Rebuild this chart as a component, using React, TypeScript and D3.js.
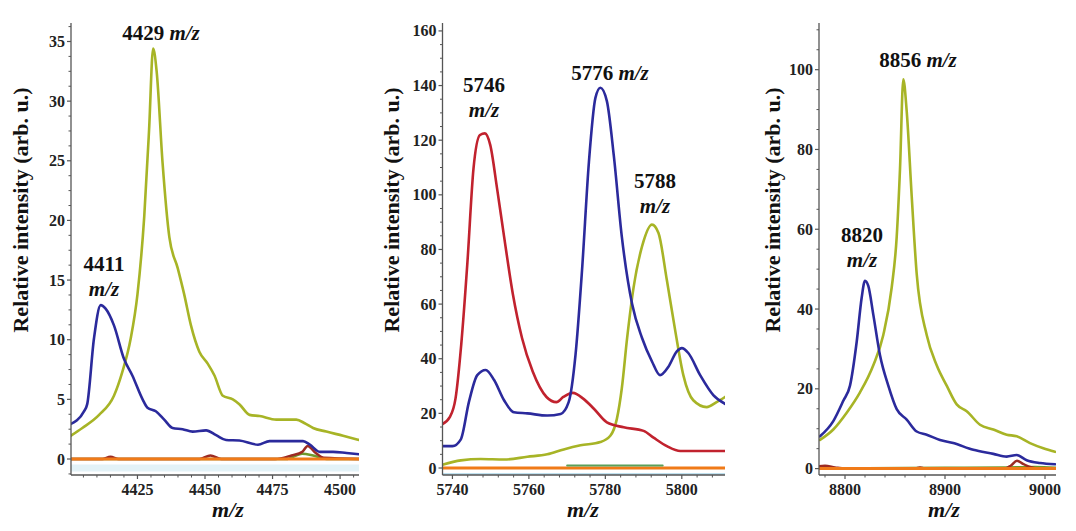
import React from "react";
import * as d3 from "d3";

type Pt = [number, number];

// ---------- Panel 1 (4400-4507 m/z) ----------
const p1XTicks = [4425, 4450, 4475, 4500];
const p1YTicks = [0, 5, 10, 15, 20, 25, 30, 35];
const p1Blue: Pt[] = [
  [4400, 2.9], [4405.2, 4.0], [4406.4, 4.6], [4408.9, 10.1], [4411.4, 12.9], [4413.2, 12.6],
  [4416.3, 11.2], [4420, 8.4], [4423.1, 7.0], [4426.9, 5.0], [4428.7, 4.3], [4431.8, 4.0],
  [4434.9, 3.3], [4438, 2.6], [4441.7, 2.5], [4445.4, 2.3], [4450.4, 2.4], [4454.1, 2.0],
  [4457.8, 1.6], [4462.7, 1.55], [4469.6, 1.2], [4473.9, 1.5], [4480.1, 1.5], [4486.3, 1.5],
  [4488.8, 1.2], [4492.5, 0.6], [4497.4, 0.6], [4502.4, 0.5], [4507, 0.4],
];
const p1Olive: Pt[] = [
  [4400, 1.9], [4404.6, 2.6], [4410.8, 3.7], [4416.3, 5.3], [4419.4, 7.3], [4422.5, 10.1],
  [4425, 13.8], [4427.5, 20.3], [4429.3, 27.6], [4430.8, 34.4], [4432.1, 32.5], [4434.3, 24.8],
  [4436.8, 18.6], [4439.9, 16.0], [4442.3, 13.8], [4444.8, 11.2], [4447.9, 9.0], [4451, 8.0],
  [4453.5, 7.0], [4456.6, 5.3], [4460.3, 5.0], [4462.7, 4.6], [4466.5, 3.7], [4470.2, 3.6],
  [4476.4, 3.3], [4483.8, 3.3], [4486.9, 3.0], [4490, 2.6], [4494.9, 2.3], [4501.1, 1.95], [4507, 1.6],
];
const p1DarkRed: Pt[] = [
  [4400, 0], [4412, 0], [4415, 0.2], [4418, 0], [4448, 0], [4452, 0.3], [4456, 0],
  [4476, 0], [4482, 0.3], [4486, 0.6], [4488, 1.1], [4491, 0.5], [4494, 0.1], [4507, 0],
];
const p1Green: Pt[] = [[4400, 0], [4480, 0], [4486, 0.45], [4490, 0.3], [4495, 0], [4507, 0]];
const p1Orange: Pt[] = [[4400, 0], [4507, 0]];
const p1Cyan: Pt[] = [[4400, -0.75], [4507, -0.75]];

// ---------- Panel 2 (5736-5811 m/z) ----------
const p2XTicks = [5740, 5760, 5780, 5800];
const p2YTicks = [0, 20, 40, 60, 80, 100, 120, 140, 160];
const p2Red: Pt[] = [
  [5737.4, 16.1], [5739.3, 18.6], [5740.8, 25.4], [5742.3, 45.2], [5743.9, 74.9], [5745.5, 109.5],
  [5747.2, 121.9], [5748.5, 122.5], [5749.9, 118.2], [5751.7, 102.1], [5753.5, 84.8], [5755.8, 63.7],
  [5758.2, 47.6], [5761, 35.3], [5764.6, 26.0], [5767.2, 24.1], [5769, 26.0], [5771.5, 27.5],
  [5774.2, 25.4], [5777, 21.7], [5780.4, 16.7], [5784.8, 14.9], [5790, 13.6], [5792.6, 11.1],
  [5796.1, 8.0], [5799.6, 6.2], [5803, 6.2], [5811.3, 6.2],
];
const p2Blue: Pt[] = [
  [5737.4, 8.0], [5740, 8.0], [5742.2, 10.5], [5744.3, 24.1], [5746.5, 34.0], [5748.7, 35.9],
  [5750.9, 32.2], [5753.5, 24.8], [5756.1, 20.4], [5759.6, 20.0], [5764.8, 19.2], [5768.3, 19.8],
  [5770.4, 24.1], [5772.2, 41.5], [5773.9, 72.4], [5775.7, 112], [5777.4, 135.5], [5778.7, 139.2],
  [5780.4, 134.3], [5782.2, 114.5], [5784.3, 84.8], [5787, 60.0], [5789.6, 47.6], [5792.2, 39.0],
  [5794.3, 34.0], [5796.5, 37.1], [5798.7, 42.7], [5800, 43.9], [5801.7, 42.1], [5804.8, 34.0],
  [5808.3, 26.6], [5811.3, 23.5],
];
const p2Olive: Pt[] = [
  [5737.4, 1.2], [5742.2, 2.8], [5747.4, 3.3], [5753.5, 3.1], [5759.6, 4.1], [5764.8, 5.0],
  [5769.1, 6.8], [5773.5, 8.3], [5778.7, 9.5], [5781.3, 11.8], [5783, 17.9], [5784.3, 29.1],
  [5785.7, 47.6], [5787.4, 66.2], [5789.6, 81.1], [5792.2, 89.1], [5793.9, 86.0], [5796.1, 68.7],
  [5798.3, 50.1], [5800.4, 34.0], [5803, 24.8], [5806.5, 22.3], [5809.1, 24.1], [5811.3, 26.0],
];
const p2Orange: Pt[] = [[5736, 0], [5811.3, 0]];
const p2Green: Pt[] = [[5770, 0.9], [5795, 0.9]];
const p2Cyan: Pt[] = [[5736, -2.2], [5811.3, -2.2]];

// ---------- Panel 3 (8774-9011 m/z) ----------
const p3XTicks = [8800, 8900, 9000];
const p3YTicks = [0, 20, 40, 60, 80, 100];
const p3Blue: Pt[] = [
  [8775, 8.1], [8788.3, 11.9], [8798.3, 17.0], [8805, 20.8], [8811.7, 31.8], [8816.7, 42.9],
  [8820, 47.1], [8823.3, 45.8], [8828.3, 38.6], [8835, 28.4], [8843.3, 20.8], [8851.7, 14.9],
  [8861.7, 12.3], [8871.7, 9.3], [8881.7, 8.5], [8895, 7.2], [8908.3, 6.4], [8928.3, 4.7],
  [8948.3, 3.7], [8961.7, 3.0], [8971.7, 3.4], [8981.7, 2.1], [8995, 1.4], [9010, 1.1],
];
const p3Olive: Pt[] = [
  [8775, 7.2], [8788.3, 9.8], [8801.7, 14.0], [8815, 19.1], [8828.3, 25.9], [8838.3, 33.5],
  [8846.7, 45.4], [8851.7, 58.1], [8855, 75.1], [8858.3, 97.6], [8861.7, 89.6], [8866.7, 68.3],
  [8871.7, 48.8], [8881.7, 33.5], [8891.7, 25.9], [8901.7, 20.8], [8911.7, 16.1], [8921.7, 14.4],
  [8935, 11.0], [8948.3, 9.8], [8961.7, 8.5], [8971.7, 8.1], [8985, 6.4], [8998.3, 5.1], [9010, 4.2],
];
const p3DarkRed: Pt[] = [
  [8774, 0.6], [8780, 0.7], [8790, 0.3], [8800, 0], [8870, 0], [8875, 0.3], [8880, 0],
  [8960, 0], [8966, 0.8], [8972, 2.0], [8978, 1.2], [8985, 0.4], [8995, 0], [9011, 0],
];
const p3Green: Pt[] = [[8774, 0], [8900, 0.2], [8960, 0.3], [8990, 0.4], [9011, 0.2]];
const p3Orange: Pt[] = [[8774, 0], [9011, 0]];

const BLUE = "#2b2a9c";
const OLIVE = "#a7b426";
const RED = "#c1222e";
const DARKRED = "#9c2a22";
const ORANGE = "#f07a18";
const GREEN = "#6f9a2c";
const CYAN = "#e3f2f7";

const FONT = "'Liberation Serif', 'Times New Roman', serif";

type SeriesDef = { data: Pt[]; color: string; width: number };
type Annot = { x: number; y: number; num: string; twoLine: boolean };

type PanelProps = {
  id: string;
  left: number;
  right: number;
  top: number;
  bottom: number;
  xDomain: [number, number];
  yDomain: [number, number];
  xTicks: number[];
  xMinorStep: number;
  yTicks: number[];
  yMinorStep: number;
  series: SeriesDef[];
  yLabelX: number;
  xTitleX: number;
  annots: Annot[];
};

function Panel(p: PanelProps) {
  const x = d3.scaleLinear().domain(p.xDomain).range([p.left, p.right]);
  const y = d3.scaleLinear().domain(p.yDomain).range([p.bottom, p.top]);
  const line = d3
    .line<Pt>()
    .x((d) => x(d[0]))
    .y((d) => y(d[1]))
    .curve(d3.curveMonotoneX);

  const xMinor = d3
    .range(Math.ceil(p.xDomain[0] / p.xMinorStep) * p.xMinorStep, p.xDomain[1], p.xMinorStep)
    .filter((v) => !p.xTicks.includes(v));
  const yMinor = d3
    .range(Math.ceil(p.yDomain[0] / p.yMinorStep) * p.yMinorStep, p.yDomain[1], p.yMinorStep)
    .filter((v) => !p.yTicks.some((t) => Math.abs(t - v) < 1e-6));

  const axisColor = "#555";
  return (
    <g>
      <defs>
        <clipPath id={`clip-${p.id}`}>
          <rect x={p.left} y={p.top} width={p.right - p.left} height={p.bottom - p.top} />
        </clipPath>
      </defs>
      <g clipPath={`url(#clip-${p.id})`}>
        {p.series.map((s, i) => (
          <path
            key={i}
            d={line(s.data) || ""}
            fill="none"
            stroke={s.color}
            strokeWidth={s.width}
            strokeLinejoin="round"
            strokeLinecap="round"
          />
        ))}
      </g>
      <line x1={p.left} x2={p.left} y1={p.top} y2={p.bottom} stroke={axisColor} strokeWidth={1.3} />
      <line x1={p.left} x2={p.right} y1={p.bottom} y2={p.bottom} stroke={axisColor} strokeWidth={1.3} />
      {p.yTicks.map((t) => (
        <g key={`yt${t}`}>
          <line x1={p.left - 4} x2={p.left} y1={y(t)} y2={y(t)} stroke={axisColor} strokeWidth={1.2} />
          <text
            x={p.left - 6}
            y={y(t)}
            textAnchor="end"
            dominantBaseline="central"
            fontFamily={FONT}
            fontWeight="bold"
            fontSize={16}
            fill="#222"
          >
            {t}
          </text>
        </g>
      ))}
      {yMinor.map((t) => (
        <line key={`ym${t}`} x1={p.left - 2.5} x2={p.left} y1={y(t)} y2={y(t)} stroke={axisColor} strokeWidth={1} />
      ))}
      {p.xTicks.map((t) => (
        <g key={`xt${t}`}>
          <line x1={x(t)} x2={x(t)} y1={p.bottom} y2={p.bottom + 4} stroke={axisColor} strokeWidth={1.2} />
          <text
            x={x(t)}
            y={p.bottom + 20}
            textAnchor="middle"
            fontFamily={FONT}
            fontWeight="bold"
            fontSize={16}
            fill="#222"
          >
            {t}
          </text>
        </g>
      ))}
      {xMinor.map((t) => (
        <line key={`xm${t}`} x1={x(t)} x2={x(t)} y1={p.bottom} y2={p.bottom + 2.5} stroke={axisColor} strokeWidth={1} />
      ))}
      <text
        transform={`translate(${p.yLabelX},210) rotate(-90)`}
        textAnchor="middle"
        dominantBaseline="central"
        fontFamily={FONT}
        fontWeight="bold"
        fontSize={22}
        fill="#111"
      >
        Relative intensity (arb. u.)
      </text>
      <text
        x={p.xTitleX}
        y={p.bottom + 42}
        textAnchor="middle"
        fontFamily={FONT}
        fontWeight="bold"
        fontStyle="italic"
        fontSize={22}
        fill="#111"
      >
        m/z
      </text>
      {p.annots.map((a, i) =>
        a.twoLine ? (
          <g key={i}>
            <text x={a.x} y={a.y} textAnchor="middle" fontFamily={FONT} fontWeight="bold" fontSize={21} fill="#111">
              {a.num}
            </text>
            <text
              x={a.x}
              y={a.y + 25}
              textAnchor="middle"
              fontFamily={FONT}
              fontWeight="bold"
              fontStyle="italic"
              fontSize={21}
              fill="#111"
            >
              m/z
            </text>
          </g>
        ) : (
          <text key={i} x={a.x} y={a.y} textAnchor="middle" fontFamily={FONT} fontWeight="bold" fontSize={21} fill="#111">
            {a.num + " "}
            <tspan fontStyle="italic">m/z</tspan>
          </text>
        )
      )}
    </g>
  );
}

export default function App() {
  return (
    <svg
      width={1076}
      height={531}
      style={{ position: "absolute", left: 0, top: 0, background: "#fff" }}
    >
      <rect x={0} y={0} width={1076} height={531} fill="#fff" />
      <Panel
        id="p1"
        left={71}
        right={359}
        top={23}
        bottom={475}
        xDomain={[4400.4, 4507]}
        yDomain={[-1.34, 36.55]}
        xTicks={p1XTicks}
        xMinorStep={5}
        yTicks={p1YTicks}
        yMinorStep={1.25}
        series={[
          { data: p1Cyan, color: CYAN, width: 7 },
          { data: p1Green, color: GREEN, width: 2.5 },
          { data: p1DarkRed, color: DARKRED, width: 2.5 },
          { data: p1Orange, color: ORANGE, width: 3 },
          { data: p1Olive, color: OLIVE, width: 2.6 },
          { data: p1Blue, color: BLUE, width: 2.6 },
        ]}
        yLabelX={20}
        xTitleX={228}
        annots={[
          { x: 161, y: 40, num: "4429", twoLine: false },
          { x: 104, y: 271, num: "4411", twoLine: true },
        ]}
      />
      <Panel
        id="p2"
        left={442.5}
        right={725}
        top={23}
        bottom={475}
        xDomain={[5737.4, 5811.3]}
        yDomain={[-2.56, 162.9]}
        xTicks={p2XTicks}
        xMinorStep={4}
        yTicks={p2YTicks}
        yMinorStep={5}
        series={[
          { data: p2Cyan, color: "#bfe0ee", width: 2 },
          { data: p2Orange, color: ORANGE, width: 3 },
          { data: p2Green, color: "#5aa05a", width: 2 },
          { data: p2Olive, color: OLIVE, width: 2.6 },
          { data: p2Red, color: RED, width: 2.6 },
          { data: p2Blue, color: BLUE, width: 2.6 },
        ]}
        yLabelX={391}
        xTitleX={583}
        annots={[
          { x: 484, y: 92, num: "5746", twoLine: true },
          { x: 610, y: 80, num: "5776", twoLine: false },
          { x: 655, y: 188, num: "5788", twoLine: true },
        ]}
      />
      <Panel
        id="p3"
        left={819}
        right={1056}
        top={23}
        bottom={475}
        xDomain={[8774, 9011]}
        yDomain={[-1.6, 111.7]}
        xTicks={p3XTicks}
        xMinorStep={20}
        yTicks={p3YTicks}
        yMinorStep={5}
        series={[
          { data: p3Green, color: GREEN, width: 2.5 },
          { data: p3DarkRed, color: DARKRED, width: 2.5 },
          { data: p3Orange, color: ORANGE, width: 3 },
          { data: p3Olive, color: OLIVE, width: 2.6 },
          { data: p3Blue, color: BLUE, width: 2.6 },
        ]}
        yLabelX={772}
        xTitleX={944}
        annots={[
          { x: 918, y: 67, num: "8856", twoLine: false },
          { x: 862, y: 242, num: "8820", twoLine: true },
        ]}
      />
    </svg>
  );
}
